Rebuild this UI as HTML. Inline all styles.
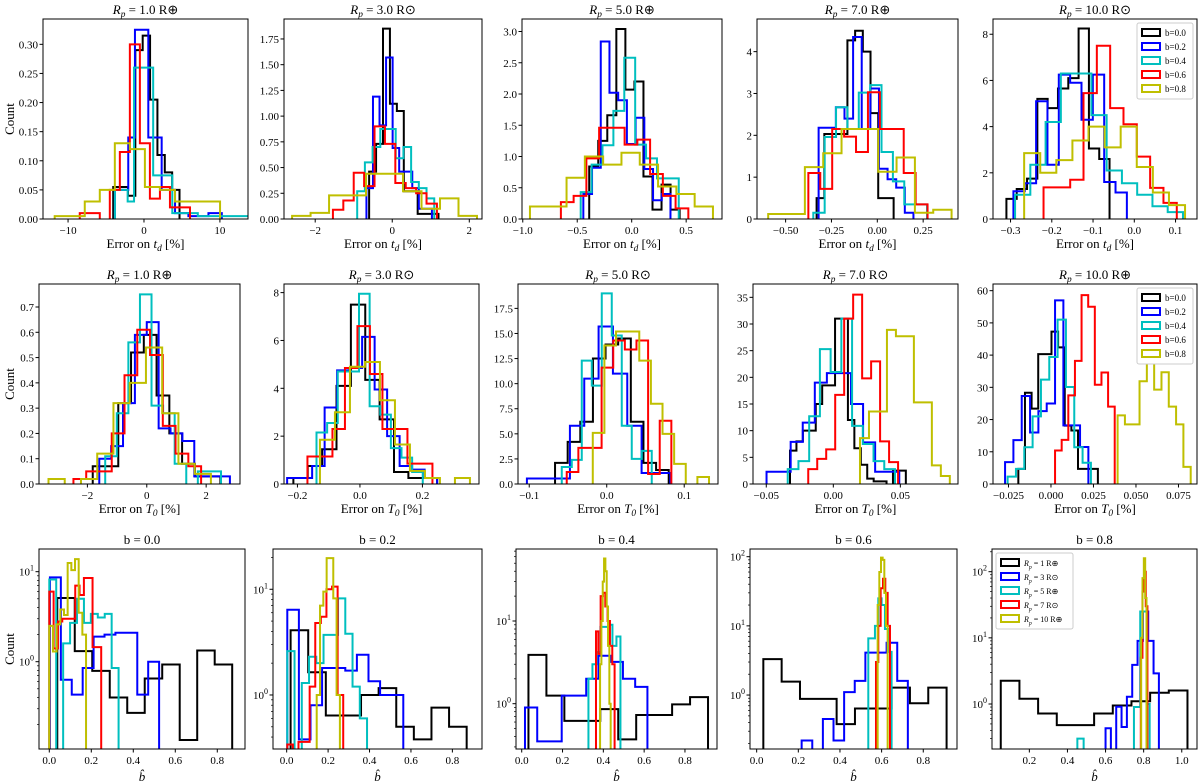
<!DOCTYPE html>
<html><head><meta charset="utf-8"><style>
html,body{margin:0;padding:0;background:#fff;}
svg{display:block;font-family:"Liberation Serif",serif;}
</style></head><body>
<svg id="fig" width="1200" height="784" viewBox="0 0 1200 784" xmlns="http://www.w3.org/2000/svg"></svg>
<script>
const colors=["#000000","#0000ff","#00bfbf","#ff0000","#bfbf00"];
const seriesNames=["black","blue","cyan","red","yellow"];
const titles=["R_p = 1.0 R⊕","R_p = 3.0 R⊙","R_p = 5.0 R⊕","R_p = 7.0 R⊕","R_p = 10.0 R⊙",
"R_p = 1.0 R⊕","R_p = 3.0 R⊙","R_p = 5.0 R⊙","R_p = 7.0 R⊙","R_p = 10.0 R⊕",
"b = 0.0","b = 0.2","b = 0.4","b = 0.6","b = 0.8"];
const xLims=[[-13.3,13.7],[-2.81,2.33],[-1.007,0.829],[-0.656,0.44],[-0.3425,0.152],
[-3.63,3.14],[-0.243,0.381],[-0.1145,0.1436],[-0.0599,0.093],[-0.0341,0.0859],
[-0.049,0.932],[-0.066,0.943],[-0.028,0.957],[-0.032,0.962],[0.004,1.08]];
const yLims=[[0,0.3435],[0,1.944],[0,3.2],[0,4.78],[0,8.66],
[0,0.791],[0,8.36],[0,19.93],[0,37.5],[0,62.07],
[-0.97,1.252],[-0.511,1.381],[-0.548,1.871],[-0.78,2.111],[-0.68,2.343]];
const xTicks=[[-10,0,10],[-2,0,2],[-1,-0.5,0,0.5],[-0.5,-0.25,0,0.25],[-0.3,-0.2,-0.1,0,0.1],
[-2,0,2],[-0.2,0,0.2],[-0.1,0,0.1],[-0.05,0,0.05],[-0.025,0,0.025,0.05,0.075],
[0,0.2,0.4,0.6,0.8],[0,0.2,0.4,0.6,0.8],[0,0.2,0.4,0.6,0.8],[0,0.2,0.4,0.6,0.8],[0.2,0.4,0.6,0.8,1.0]];
const xTickLabels=[["−10","0","10"],["−2","0","2"],["−1.0","−0.5","0.0","0.5"],["−0.50","−0.25","0.00","0.25"],["−0.3","−0.2","−0.1","0.0","0.1"],
["−2","0","2"],["−0.2","0.0","0.2"],["−0.1","0.0","0.1"],["−0.05","0.00","0.05"],["−0.025","0.000","0.025","0.050","0.075"],
["0.0","0.2","0.4","0.6","0.8"],["0.0","0.2","0.4","0.6","0.8"],["0.0","0.2","0.4","0.6","0.8"],["0.0","0.2","0.4","0.6","0.8"],["0.2","0.4","0.6","0.8","1.0"]];
const yTicks=[[0,0.05,0.1,0.15,0.2,0.25,0.3],[0,0.25,0.5,0.75,1,1.25,1.5,1.75],[0,0.5,1,1.5,2,2.5,3],[0,1,2,3,4],[0,2,4,6,8],
[0,0.1,0.2,0.3,0.4,0.5,0.6,0.7],[0,2,4,6,8],[0,2.5,5,7.5,10,12.5,15,17.5],[0,5,10,15,20,25,30,35],[0,10,20,30,40,50,60],
[0,1],[0,1],[0,1],[0,1,2],[0,1,2]];
const yTickLabels=[["0.00","0.05","0.10","0.15","0.20","0.25","0.30"],["0.00","0.25","0.50","0.75","1.00","1.25","1.50","1.75"],["0.0","0.5","1.0","1.5","2.0","2.5","3.0"],["0","1","2","3","4"],["0","2","4","6","8"],
["0.0","0.1","0.2","0.3","0.4","0.5","0.6","0.7"],["0","2","4","6","8"],["0.0","2.5","5.0","7.5","10.0","12.5","15.0","17.5"],["0","5","10","15","20","25","30","35"],["0","10","20","30","40","50","60"],
["0","1"],["0","1"],["0","1"],["0","1","2"],["0","1","2"]];
const xLabels=["t_d","t_d","t_d","t_d","t_d","T_0","T_0","T_0","T_0","T_0","b","b","b","b","b"];
// per panel: bin starts, bin widths, counts for [black, blue, cyan, red, yellow]
const starts=[
[-4.05,-3.83,-3.83,-8.46,-11.76],[-0.6,-0.67,-0.91,-1.54,-2.6],[-0.39,-0.444,-0.468,-0.65,-0.934],[-0.331,-0.32,-0.349,-0.376,-0.595],[-0.31,-0.293,-0.289,-0.22,-0.267],
[-1.82,-1.6,-1.4,-2.47,-3.31],[-0.213,-0.233,-0.139,-0.168,-0.128],[-0.0667,-0.103,-0.058,-0.0516,-0.018],[-0.0323,-0.0498,-0.034,-0.0187,0.0199],[-0.0192,-0.027,-0.0255,0.0024,0.0392],
[0.038,0.003,0.0,0.0,0.0],[0.019,0.003,0.003,0.003,0.145],[0.033,0.016,0.327,0.364,0.384],[0.032,0.216,0.536,0.573,0.581],[0.05,0.6,0.452,0.785,0.787]];
const widths=[
[0.97,0.88,0.84,1.32,1.98],[0.18,0.17,0.2,0.27,0.48],[0.083,0.08,0.1,0.117,0.168],[0.042,0.047,0.062,0.065,0.1],[0.025,0.0275,0.037,0.0323,0.039],
[0.43,0.4,0.39,0.43,0.547],[0.046,0.04,0.034,0.04,0.048],[0.0163,0.0185,0.0129,0.015,0.015],[0.0048,0.009,0.008,0.0067,0.0067],[0.0039,0.0049,0.0049,0.0039,0.0043],
[0.0833,0.052,0.033,0.0206,0.0175],[0.085,0.056,0.035,0.027,0.016],[0.088,0.06,0.0196,0.0114,0.0065],[0.088,0.051,0.016,0.0112,0.008],[0.098,0.028,0.0165,0.0087,0.007]];
const counts=[
[[0.055,0.055,0.04,0.29,0.315,0.205,0.11,0.08,0.05],[0.05,0.05,0.14,0.325,0.325,0.14,0.14,0.05,0.05,0.01,0.01,0.005,0.005,0.005,0.01,0.01],[0.05,0.05,0.03,0.26,0.26,0.26,0.075,0.075,0.075,0.01,0.01,0.01,0.01,0.005,0.005,0.005,0.005,0.005,0.005,0.005,0.005],[0.01,0.01,0,0.05,0.115,0.3,0.13,0.035,0.055,0.02,0.02],[0.005,0.005,0.03,0.05,0.13,0.12,0.055,0.05,0.03,0.03,0.03]],
[[0.46,0.73,1.85,1.12,1.05,0.27,0.27,0.05,0.05,0.05],[0.3,1.19,0.91,1.57,0.69,0.46,0.46,0.3,0.1,0.1],[0.27,0.55,0.7,0.875,0.875,0.59,0.7,0.36,0.3,0.2],[0.09,0.18,0.45,0.32,0.9,0.73,0.35,0.3,0.25,0.15],[0.03,0.06,0.23,0.23,0.44,0.44,0.27,0.1,0.2,0.03]],
[[0.84,1.25,1.66,3.04,2.07,2.2,0.68,0.15,0.55,0.15],[0.4,0.82,2.84,2.02,1.9,1.2,1.62,0.8,0.3,0.4],[0.43,0.87,1.18,1.73,2.58,1.19,0.97,0.65,0.65],[0.27,0.37,0.97,1.46,1.46,1.19,1.27,0.72,0.37,0.17],[0.2,0.2,0.66,1.0,0.87,1.06,0.87,0.52,0.4,0.2]],
[[0.5,2.03,2.03,2.03,4.27,4.5,4.0,2.53,0.5,0.5],[2.18,2.18,2.67,2.4,4.35,2.15,3.12,1.2,0.95,0.75,0.15],[0.15,1.96,2.67,2.15,3.02,3.2,1.6,0.9,0.35,0.35],[1.1,0.72,2.15,1.97,1.6,3.03,2.15,2.15,1.1,0.35],[0.12,0.12,1.24,1.57,2.15,2.15,1.13,1.47,0.15,0.22]],
[[0.87,1.3,1.75,5.2,4.8,5.65,6.1,8.25,3.05,2.6],[1.2,1.55,5.1,2.35,6.25,5.9,4.3,6.25,1.6,1.15],[1.05,2.35,4.2,6.3,6.3,4.5,2.1,1.55,1.05,0.55,0.3],[1.37,1.37,1.7,5.45,7.5,4.8,4.1,2.7,1.35,0.7],[2.85,2.0,2.55,3.4,4.0,3.1,4.0,2.25,1.15,0.6]],
[[0.07,0.07,0.32,0.52,0.59,0.35,0.2,0.08,0.03,0.03],[0.1,0.15,0.32,0.59,0.64,0.22,0.2,0.17,0.03,0.03,0.03],[0.11,0.28,0.56,0.75,0.31,0.28,0.08,0,0.05,0.05],[0.02,0.05,0.05,0.2,0.43,0.61,0.51,0.23,0.12,0.07],[0.02,0,0.02,0.12,0.32,0.4,0.54,0.28,0.08,0.04]],
[[0.25,0.75,1.45,4.1,7.5,4.35,2.7,0.5,0.25,0.25],[0.25,0.25,0.75,3.2,4.75,4.85,6.15,3.95,2.0,0.75,0.6,0.25],[2.15,2.55,4.7,4.7,7.95,3.25,2.9,1.5,1.1,0.5],[1.15,1.15,2.3,4.85,6.6,4.6,2.3,2.3,0.85,0.85],[1.85,3.0,4.9,5.1,3.5,1.65,0.55,0.25,0,0.25]],
[[2.1,4.2,6.2,12.5,13.9,14.5,6.2,2.1,1.4],[0.55,0.55,0.55,5.8,10.5,15.7,11.0,5.8,1.1,1.1],[1.7,2.4,12.3,9.8,19.0,14.8,5.8,2.5,3.3],[1.2,3.6,3.6,11.6,14.3,13.4,14.3,1.0,6.3],[5.1,13.8,15.2,15.2,12.3,8.0,5.0,2.0,0,0.7]],
[[6.25,8.0,10.0,10.0,15.0,18.5,18.5,31.0,31.0,12.0,6.7,3.6,1.0,0.5,0.5,0,2.5,2.5],[2.3,2.3,7.9,11.5,19.0,20.8,20.8,15.0,7.8,2.3,2.3],[2.8,4.3,12.7,25.3,21.0,31.0,10.9,7.5,4.3,2.8],[2.8,4.7,6.5,16.7,31.0,35.5,19.8,23.0,8.0,4.1],[8.6,13.6,13.6,28.9,27.7,27.7,15.3,15.3,3.5,1.5]],
[[4.7,28.3,23.4,40.3,40.3,47.3,42.4,18.1,16.6,4.7,4.7,4.7],[6.8,13.6,27.3,16.0,22.6,25.0,57.0,18.2,18.2,11.5],[2.3,4.7,11.4,21.0,32.4,39.4,51.0,30.1,11.4,6.6],[10.4,13.7,27.5,38.2,58.6,55.0,30.8,34.6,24.0],[21.3,18.5,18.5,31.9,40.4,29.3,34.7,24.0,18.5,5.3]],
[[5.1,1.31,0.79,0.4,0.27,0.65,0.93,0.135,1.33,0.93],[8.65,0.63,0.43,0.85,1.9,2.0,2.1,2.1,0.43,1.0],[8.2,0,1.6,2.7,5.0,2.7,3.4,3.1,3.4,0.85],[6.0,1.4,2.8,3.0,3.0,3.0,7.0,5.5,8.5,8.5,1.45,1.45],[2.5,1.3,2.6,3.8,3.3,12.5,10.4,13.8,3.5,2.0]],
[[4.1,1.64,0.64,0.64,1.0,1.16,0.5,0.38,0.76,0.5],[6.4,0.38,0.8,1.8,1.8,1.7,2.4,1.35,1.0,1.0],[2.6,0.25,1.3,2.3,2.0,3.7,3.7,8.2,3.8,1.2,0.6],[0.34,0.25,0.36,0.36,1.2,4.8,5.5,10.0,10.6,1.0],[1.0,7.0,9.5,19.7,19.7,8.2,1.0]],
[[3.9,1.25,0.62,0.62,0.86,0.37,0.73,0.73,0.98,1.2],[0.9,0.35,0.35,1.25,1.25,2.0,3.8,3.2,2.0,1.6],[2.0,3.0,4.2,8.5,8.5,9.0,5.0,6.5],[7.5,4.0,20,22,15,10,5,3],[3,10,30,57,40,15,5,1]],
[[3.3,1.56,0.88,0.88,0.38,0.64,0.64,1.28,0.76,1.28],[0.22,0,0.45,0.22,1.1,1.6,4.1,4.1,5.7,1.6],[6.6,6.6,10,25,20,9,4.2],[3,10,35,48,30,10],[20,60,97,90,30,10]],
[[2.25,1.2,0.72,0.48,0.48,0.72,0.95,1.1,1.48,1.6],[0.43,0,0.91,0.45,1.29,3.9,9.0,25,9.0,2.9],[0.3,0.3,0,0,0,0,0,0,0,0,0,0,0,0,0,0,0,0,0.9,0.9,25,25,1],[5,50,100,30],[10,80,160,40]]];
const legendB=["b=0.0","b=0.2","b=0.4","b=0.6","b=0.8"];
const legendR=["R_p = 1 R⊕","R_p = 3 R⊙","R_p = 5 R⊕","R_p = 7 R⊙","R_p = 10 R⊕"];

const NS="http://www.w3.org/2000/svg";
const svg=document.getElementById("fig");
const FRAME_L=[43,284,522,757,993,39,284,518,753,993,39,273,516,750,992];
const FRAME_R=[248,482,722,958,1197,240,479,718,958,1197,245,482,717,957,1197];
const TOP=[19,284,549],H=200;
function mk(tag,attrs,parent){const e=document.createElementNS(NS,tag);for(const k in attrs)e.setAttribute(k,attrs[k]);(parent||svg).appendChild(e);return e;}
function richText(el,str){
  const parts=str.split(/(\w_\w+)/);
  parts.forEach(p=>{
    const m=p.match(/^(\w)_(\w+)$/);
    if(m){const a=document.createElementNS(NS,"tspan");a.setAttribute("font-style","italic");a.textContent=m[1];el.appendChild(a);
      const b=document.createElementNS(NS,"tspan");b.setAttribute("font-size","0.72em");b.setAttribute("dy","3");b.setAttribute("font-style","italic");b.textContent=m[2];el.appendChild(b);
      const c=document.createElementNS(NS,"tspan");c.setAttribute("dy","-3");c.textContent="\u200b";el.appendChild(c);}
    else if(p){const a=document.createElementNS(NS,"tspan");a.textContent=p;el.appendChild(a);}
  });
}
for(let p=0;p<15;p++){
  const row=Math.floor(p/5),col=p%5,x0=FRAME_L[p],W=FRAME_R[p]-FRAME_L[p],y0=TOP[row],log=row===2;
  const [xa,xb]=xLims[p],[ya,yb]=yLims[p];
  const sx=v=>x0+(v-xa)/(xb-xa)*W;
  const sy=v=>{let t=log?(v>0?Math.log10(v):ya-1):v;return y0+H-(t-ya)/(yb-ya)*H;};
  const g=mk("g",{});
  
  
  const cid="clip"+p;
  const cp=mk("clipPath",{id:cid},g);mk("rect",{x:x0,y:y0,width:W,height:H},cp);
  const sg=mk("g",{"clip-path":"url(#"+cid+")"},g);
  for(let s=0;s<5;s++){
    const st=starts[p][s],w=widths[p][s],c=counts[p][s];
    const bot=y0+H+3;
    let d="M"+sx(st).toFixed(2)+","+bot;
    c.forEach((v,i)=>{const yy=v>0?sy(v):bot;d+=" L"+sx(st+i*w).toFixed(2)+","+yy.toFixed(2)+" L"+sx(st+(i+1)*w).toFixed(2)+","+yy.toFixed(2);});
    d+=" L"+sx(st+c.length*w).toFixed(2)+","+bot;
    const path=mk("path",{d:d,fill:"none",stroke:colors[s],"stroke-width":2,"stroke-linejoin":"miter"},sg);
    
    
  }
  const frame=mk("rect",{x:x0,y:y0,width:W,height:H,fill:"none",stroke:"#000","stroke-width":1},g);
  
  
  xTicks[p].forEach((v,i)=>{const X=sx(v);mk("line",{x1:X,x2:X,y1:y0+H,y2:y0+H+3.5,stroke:"#000"},g);
    const t=mk("text",{x:X,y:y0+H+15,"font-size":11,"text-anchor":"middle"},g);t.textContent=xTickLabels[p][i];
    
    });
  yTicks[p].forEach((v,i)=>{const Y=log?y0+H-(v-ya)/(yb-ya)*H:sy(v);mk("line",{x1:x0-3.5,x2:x0,y1:Y,y2:Y,stroke:"#000"},g);
    const t=mk("text",{x:x0-5,y:Y+4,"font-size":11,"text-anchor":"end"},g);
    if(log){t.textContent="10";const ts=document.createElementNS(NS,"tspan");ts.setAttribute("dy","-5");ts.setAttribute("font-size","8");ts.textContent=yTickLabels[p][i];t.appendChild(ts);}
    else t.textContent=yTickLabels[p][i];
    
    });
  if(log){for(let dec=Math.floor(ya);dec<=Math.ceil(yb);dec++)for(let m=2;m<10;m++){const lv=dec+Math.log10(m);if(lv<ya||lv>yb)continue;const Y=y0+H-(lv-ya)/(yb-ya)*H;mk("line",{x1:x0-2,x2:x0,y1:Y,y2:Y,stroke:"#000","stroke-width":0.7},g);}}
  const ti=mk("text",{x:x0+W/2,y:y0-5,"font-size":13,"text-anchor":"middle"},g);richText(ti,titles[p]);
  
  
  const xl=mk("text",{x:x0+W/2,y:y0+H+(log?32:29),"font-size":13,"text-anchor":"middle"},g);
  if(log){xl.setAttribute("font-style","italic");xl.textContent="b̂";}
  else{richText(xl,"Error on "+xLabels[p]+" [%]");}
  
  
  if(col===0){const yl=mk("text",{x:0,y:0,"font-size":13,"text-anchor":"middle",transform:"translate(14,"+(y0+H/2)+") rotate(-90)"},g);yl.textContent="Count";
    
    }
  if(col===4){
    const isR=row===2,labs=isR?legendR:legendB;
    const lw=isR?77:56,lx=isR?x0+4:x0+W-lw-4,ly=y0+4;
    const lg=mk("g",{},g);
    
    
    mk("rect",{x:lx,y:ly,width:lw,height:76,fill:"#fff",stroke:"#ccc",rx:2},lg);
    labs.forEach((lab,i)=>{const yy=ly+6+i*14;
      const e=mk("g",{},lg);
      
      
      mk("rect",{x:lx+5,y:yy,width:18,height:7,fill:"none",stroke:colors[i],"stroke-width":2},e);
      const t=mk("text",{x:lx+28,y:yy+7,"font-size":isR?8:9},e);
      if(isR)richText(t,lab);else t.textContent=lab;});
  }
}
</script>
</body></html>
